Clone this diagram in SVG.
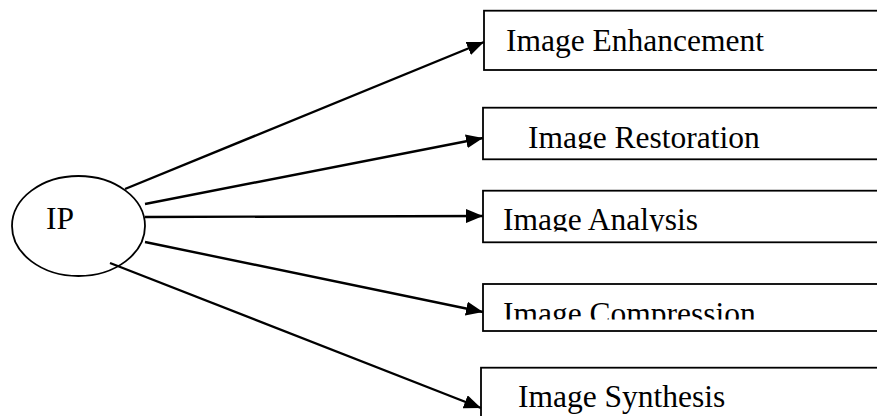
<svg xmlns="http://www.w3.org/2000/svg" width="877" height="416" viewBox="0 0 877 416">
<style>
.box{fill:#fff;stroke:#000;stroke-width:1.8}
.lbl{font-family:"Liberation Serif","Times New Roman",serif;font-size:31.5px;fill:#000}
.con{stroke:#000;stroke-width:2.4;fill:none}
</style>
<defs>
<marker id="ah" markerUnits="userSpaceOnUse" markerWidth="18" markerHeight="14" refX="17" refY="7" orient="auto">
<path d="M0,0 L17,7 L0,14 Z" fill="#000"/>
</marker>
<clipPath id="c2"><rect x="483" y="100" width="400" height="49"/></clipPath>
<clipPath id="c3"><rect x="483" y="185" width="400" height="46.5"/></clipPath>
<clipPath id="c4"><rect x="483" y="280" width="400" height="39.5"/></clipPath>
</defs>
<rect width="877" height="416" fill="#fff"/>
<g id="ip">
<ellipse cx="78.5" cy="226" rx="66.5" ry="50" fill="#fff" stroke="#000" stroke-width="1.8"/>
<text class="lbl" x="46" y="229">IP</text>
</g>
<g id="enhancement">
<rect class="box" x="484" y="10.7" width="400" height="59.3"/>
<text class="lbl" x="506" y="51">Image Enhancement</text>
</g>
<g id="restoration">
<rect class="box" x="483" y="107.7" width="400" height="51.6"/>
<text class="lbl" x="528" y="148" clip-path="url(#c2)">Image Restoration</text>
</g>
<g id="analysis">
<rect class="box" x="483" y="190.7" width="400" height="51.6"/>
<text class="lbl" x="503" y="230" clip-path="url(#c3)">Image Analysis</text>
</g>
<g id="compression">
<rect class="box" x="483" y="284" width="400" height="47"/>
<text class="lbl" x="503" y="324" clip-path="url(#c4)">Image Compression</text>
</g>
<g id="synthesis">
<rect class="box" x="481" y="367.7" width="400" height="60"/>
<text class="lbl" x="518" y="407">Image Synthesis</text>
</g>
<g id="connectors">
<line class="con" x1="125" y1="189" x2="484" y2="42" marker-end="url(#ah)"/>
<line class="con" x1="145" y1="204" x2="483" y2="138" marker-end="url(#ah)"/>
<line class="con" x1="145" y1="217" x2="483" y2="216" marker-end="url(#ah)"/>
<line class="con" x1="145" y1="242" x2="483" y2="312" marker-end="url(#ah)"/>
<line class="con" x1="110" y1="263" x2="481" y2="408" marker-end="url(#ah)"/>
</g>
</svg>
